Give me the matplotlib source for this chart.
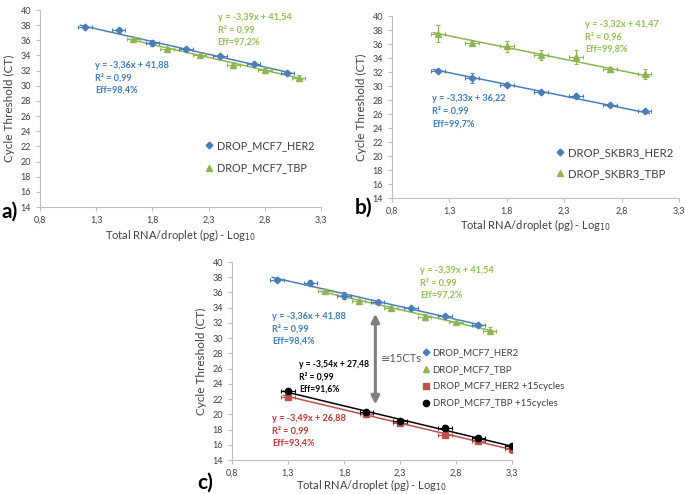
import numpy as np
import matplotlib
matplotlib.use("Agg")
import matplotlib.pyplot as plt
from matplotlib.lines import Line2D

plt.rcParams['font.family'] = ['Lato', 'DejaVu Sans']

BLUE = "#4a7ebb"
BLUE_TXT = "#3a7cc4"
GREEN = "#8db552"
GREEN_TXT = "#92c050"
RED = "#c0504d"
RED_TXT = "#d03030"
AXC = "#bfbfbf"

# ---- panel a / c top: MCF7 ----
mcf7_her2_x = [1.2, 1.5, 1.8, 2.1, 2.4, 2.7, 3.0]
mcf7_her2_y = [37.7, 37.3, 35.6, 34.8, 33.9, 32.9, 31.7]
mcf7_her2_yerr = [0.2, 0.3, 0.4, 0.2, 0.2, 0.2, 0.2]
mcf7_tbp_x = [1.63, 1.93, 2.22, 2.52, 2.8, 3.1]
mcf7_tbp_y = [36.2, 34.9, 34.0, 32.8, 32.1, 31.0]
mcf7_tbp_yerr = [0.3, 0.2, 0.2, 0.4, 0.2, 0.4]

# ---- panel b: SKBR3 ----
skbr3_her2_x = [1.2, 1.5, 1.8, 2.1, 2.4, 2.7, 3.0]
skbr3_her2_y = [32.2, 31.1, 30.2, 29.1, 28.6, 27.3, 26.4]
skbr3_her2_yerr = [0.2, 0.7, 0.2, 0.2, 0.2, 0.2, 0.2]
skbr3_tbp_x = [1.2, 1.5, 1.8, 2.1, 2.4, 2.7, 3.0]
skbr3_tbp_y = [37.5, 36.1, 35.7, 34.4, 34.1, 32.4, 31.7]
skbr3_tbp_yerr = [1.2, 0.3, 0.8, 0.7, 1.0, 0.3, 0.7]

# ---- panel c bottom: +15 cycles ----
plus15_x = [1.3, 2.0, 2.3, 2.7, 3.0, 3.3]
plus15_her2_y = [22.3, 20.0, 18.9, 17.3, 16.5, 15.4]
plus15_her2_yerr = [0.3, 0.3, 0.3, 0.3, 0.3, 0.5]
plus15_tbp_y = [23.0, 20.3, 19.1, 18.2, 16.9, 15.8]
plus15_tbp_yerr = [0.2, 0.2, 0.2, 0.4, 0.3, 0.2]

xticks = [0.8, 1.3, 1.8, 2.3, 2.8, 3.3]
yticks = list(range(14, 41, 2))
XERR = 0.06

MARKERS = {BLUE: ("D", 3.4), GREEN: ("^", 4.3), RED: ("s", 4.0), "black": ("o", 4.5)}


def style_axes(ax, xlab_y):
    ax.set_xlim(0.8, 3.3)
    ax.set_ylim(14, 40)
    ax.set_xticks(xticks)
    ax.set_xticklabels([f"{t:.1f}".replace(".", ",") for t in xticks])
    ax.set_yticks(yticks)
    for s in ["top", "right"]:
        ax.spines[s].set_visible(False)
    for s in ["left", "bottom"]:
        ax.spines[s].set_color(AXC)
        ax.spines[s].set_linewidth(0.8)
    ax.tick_params(colors=AXC, labelcolor="#404040", labelsize=6.5,
                   length=3, width=0.8)
    ax.set_ylabel("Cycle Threshold (CT)", fontsize=8.5, color="#404040",
                  labelpad=4)
    ax.set_xlabel("Total RNA/droplet (pg) - Log$_{10}$", fontsize=8,
                  color="#404040")
    ax.xaxis.set_label_coords(0.5, xlab_y)


def series(ax, x, y, yerr, color, slope, icpt):
    m, ms = MARKERS[color]
    x = np.array(x)
    ax.errorbar(x, y, xerr=XERR, yerr=yerr, fmt=m, color=color, ms=ms,
                elinewidth=0.8, capsize=1.5, capthick=0.8, zorder=3)
    xl = np.array([x.min() - 0.04, x.max() + 0.04])
    ax.plot(xl, slope * xl + icpt, color=color, lw=1.1, zorder=2)


def eqn(ax, x, y, lines, color, size=6.6):
    ax.text(x, y, "\n".join(lines), color=color, fontsize=size,
            fontweight="bold", va="top", ha="left", linespacing=1.45)


def legend(ax, entries, px, py, size, spacing):
    handles = []
    for color, label in entries:
        m, ms = MARKERS[color]
        handles.append(Line2D([], [], ls="none", marker=m, color=color,
                              ms=ms, label=label))
    ax.legend(handles=handles, loc="upper left", bbox_to_anchor=(px / 685, 1 - py / 494),
              bbox_transform=fig.transFigure, frameon=False, borderpad=0,
              borderaxespad=0, fontsize=size, handlelength=0.6,
              handletextpad=0.4, labelspacing=spacing, labelcolor="#404040")


fig = plt.figure(figsize=(6.85, 4.94), dpi=100)

# panel a
ax_a = fig.add_axes([40 / 685, 1 - 207 / 494, 281 / 685, 197 / 494])
series(ax_a, mcf7_her2_x, mcf7_her2_y, mcf7_her2_yerr, BLUE, -3.36, 41.88)
series(ax_a, mcf7_tbp_x, mcf7_tbp_y, mcf7_tbp_yerr, GREEN, -3.39, 41.54)
style_axes(ax_a, -0.10)
eqn(ax_a, 2.38, 39.6, ["y = -3,39x + 41,54", "R² = 0,99", "Eff=97,2%"], GREEN_TXT)
eqn(ax_a, 1.29, 33.3, ["y = -3,36x + 41,88", "R² = 0,99", "Eff=98,4%"], BLUE_TXT)
legend(ax_a, [(BLUE, "DROP_MCF7_HER2"), (GREEN, "DROP_MCF7_TBP")], 206, 140, 7.8, 1.05)
fig.text(2 / 685, 1 - 212 / 494, "a)", fontsize=15, fontweight="bold", va="center")

# panel b
ax_b = fig.add_axes([392 / 685, 1 - 198 / 494, 287 / 685, 182 / 494])
series(ax_b, skbr3_her2_x, skbr3_her2_y, skbr3_her2_yerr, BLUE, -3.33, 36.22)
series(ax_b, skbr3_tbp_x, skbr3_tbp_y, skbr3_tbp_yerr, GREEN, -3.32, 41.47)
style_axes(ax_b, -0.105)
eqn(ax_b, 2.48, 39.4, ["y = -3,32x + 41,47", "R² = 0,96", "Eff=99,8%"], GREEN_TXT)
eqn(ax_b, 1.15, 28.8, ["y = -3,33x + 36,22", "R² = 0,99", "Eff=99,7%"], BLUE_TXT)
legend(ax_b, [(BLUE, "DROP_SKBR3_HER2"), (GREEN, "DROP_SKBR3_TBP")], 557, 147, 8.2, 0.85)
fig.text(355 / 685, 1 - 208 / 494, "b)", fontsize=15, fontweight="bold", va="center")

# panel c
ax_c = fig.add_axes([232 / 685, 1 - 460 / 494, 280 / 685, 198 / 494])
series(ax_c, mcf7_her2_x, mcf7_her2_y, mcf7_her2_yerr, BLUE, -3.36, 41.88)
series(ax_c, mcf7_tbp_x, mcf7_tbp_y, mcf7_tbp_yerr, GREEN, -3.39, 41.54)
series(ax_c, plus15_x, plus15_her2_y, plus15_her2_yerr, RED, -3.49, 26.88)
series(ax_c, plus15_x, plus15_tbp_y, plus15_tbp_yerr, "black", -3.54, 27.48)
style_axes(ax_c, -0.088)
eqn(ax_c, 2.48, 39.5, ["y = -3,39x + 41,54", "R² = 0,99", "Eff=97,2%"], GREEN_TXT)
eqn(ax_c, 1.16, 33.4, ["y = -3,36x + 41,88", "R² = 0,99", "Eff=98,4%"], BLUE_TXT)
eqn(ax_c, 1.40, 27.1, ["y = -3,54x + 27,48", "R² = 0,99", "Eff=91,6%"], "black", 6.2)
eqn(ax_c, 1.16, 20.1, ["y = -3,49x + 26,88", "R² = 0,99", "Eff=93,4%"], RED_TXT)
ax_c.annotate("", xy=(2.08, 21.3), xytext=(2.08, 33.2),
              arrowprops=dict(arrowstyle="<|-|>", color="#7f7f7f", lw=2.2,
                              mutation_scale=12, shrinkA=0, shrinkB=0))
ax_c.text(2.13, 27.3, "≅15CTs", fontsize=8, color="#595959", va="center")
legend(ax_c, [(BLUE, "DROP_MCF7_HER2"), (GREEN, "DROP_MCF7_TBP"),
              (RED, "DROP_MCF7_HER2 +15cycles"), ("black", "DROP_MCF7_TBP +15cycles")],
       423, 348, 6.9, 0.85)
fig.text(197 / 685, 1 - 483 / 494, "c)", fontsize=15, fontweight="bold", va="center")

fig.savefig("out.png", dpi=100)
